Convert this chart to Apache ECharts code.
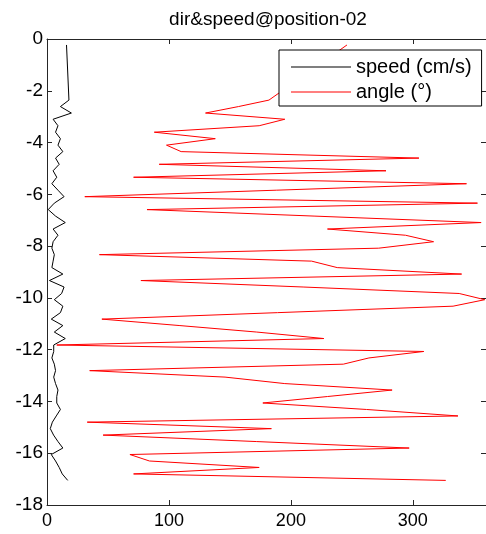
<!DOCTYPE html>
<html>
<head>
<meta charset="utf-8">
<script src="https://cdn.jsdelivr.net/npm/echarts@6/dist/echarts.min.js"></script>
<style>
html,body{margin:0;padding:0;background:#fff;}
#chart{width:486px;height:534px;}
</style>
</head>
<body>
<div id="chart"></div>
<script>
// Depth (m) for each sample
const depths = [-0.23, -2.36, -2.61, -2.86, -3.1, -3.35, -3.6, -3.85, -4.1, -4.35, -4.6,
  -4.84, -5.09, -5.34, -5.59, -5.84, -6.09, -6.34, -6.59, -6.84, -7.09,
  -7.34, -7.58, -7.83, -8.08, -8.33, -8.58, -8.83, -9.08, -9.33, -9.58,
  -9.83, -10.07, -10.32, -10.57, -10.82, -11.07, -11.32, -11.57, -11.82, -12.07,
  -12.32, -12.56, -12.81, -13.06, -13.31, -13.56, -13.81, -14.06, -14.31, -14.56,
  -14.8, -15.05, -15.3, -15.55, -15.8, -16.05, -16.3, -16.55, -16.8, -17.05];
// speed (cm/s)
const speed = [16, 18, 11, 20, 5, 9, 7, 11, 9, 13, 7,
  10, 5, 8, 4, 9, 14, 6, 1, 7, 15,
  5, 9, 5, 4, 6, 5, 4, 13, 2, 14,
  12, 6, 13, 11, 3.5, 13, 6, 15, 5.5, 5.5,
  4, 6, 7, 5.5, 7, 9, 8, 8, 11, 7.6,
  4.4, 2.7, 5.4, 9, 13, 3.5, 7, 10, 12.5, 17];
// angle (deg)
const angle = [246, 182, 157, 130, 195, 174, 88, 138, 98, 110, 305,
  92, 278, 71, 344, 188, 31, 353, 82, 219, 356,
  230, 294, 317, 272, 43, 217, 238, 340, 77, 210,
  338, 359, 333, 189, 45, 109, 172, 227, 8, 309,
  264, 243, 35, 146, 195, 283, 230, 177, 262, 337,
  33, 184, 46, 172, 297, 68, 84, 174, 71, 327];
const seriesNames = ['speed (cm/s)', 'angle (°)'];
const titleText = 'dir&speed@position-02';

const font = "'Liberation Sans', Arial, sans-serif";
const axisColor = '#262626';

const chart = echarts.init(document.getElementById('chart'), null, {renderer: 'canvas'});
const toPairs = vals => vals.map((v, i) => [v, depths[i]]);

const baseX = {
  type: 'value', min: 0, max: 360, interval: 100,
  axisLine: {show: true, onZero: false, lineStyle: {color: axisColor, width: 1}},
  axisTick: {show: true, inside: true, length: 5, lineStyle: {color: axisColor}},
  splitLine: {show: false}
};
const baseY = {
  type: 'value', min: -18, max: 0, interval: 2,
  axisLine: {show: true, onZero: false, lineStyle: {color: axisColor, width: 1}},
  axisTick: {show: true, inside: true, length: 5, lineStyle: {color: axisColor}},
  splitLine: {show: false}
};

chart.setOption({
  animation: false,
  backgroundColor: '#fff',
  grid: {left: 47, top: 39, right: -4, bottom: 29, containLabel: false},
  graphic: [{
    type: 'text', x: 268, y: 10,
    style: {text: titleText, textAlign: 'center', fill: '#000', font: '19px ' + font}
  }],
  legend: {
    orient: 'vertical', left: 279, top: 50,
    data: seriesNames,
    icon: 'rect', itemWidth: 60, itemHeight: 1, itemGap: 5,
    padding: [7, 10, 4, 12],
    backgroundColor: '#fff', borderColor: '#000', borderWidth: 1,
    textStyle: {fontFamily: font, fontSize: 20, color: '#000'}
  },
  xAxis: [
    Object.assign({}, baseX, {position: 'bottom',
      axisLabel: {show: true, showMaxLabel: false, color: '#000', fontFamily: font, fontSize: 18, margin: 7}}),
    Object.assign({}, baseX, {position: 'top', axisLabel: {show: false}})
  ],
  yAxis: [
    Object.assign({}, baseY, {position: 'left',
      axisLabel: {show: true, color: '#000', fontFamily: font, fontSize: 19, margin: 4}}),
    Object.assign({}, baseY, {position: 'right', axisLabel: {show: false}})
  ],
  series: [
    {name: seriesNames[0], type: 'line', data: toPairs(speed), xAxisIndex: 0, yAxisIndex: 0,
     showSymbol: false, symbol: 'none', lineStyle: {color: '#000', width: 1}, itemStyle: {color: '#000'}},
    {name: seriesNames[1], type: 'line', data: toPairs(angle), xAxisIndex: 0, yAxisIndex: 0,
     showSymbol: false, symbol: 'none', lineStyle: {color: '#ff0000', width: 1}, itemStyle: {color: '#ff0000'}}
  ]
});
</script>
</body>
</html>
